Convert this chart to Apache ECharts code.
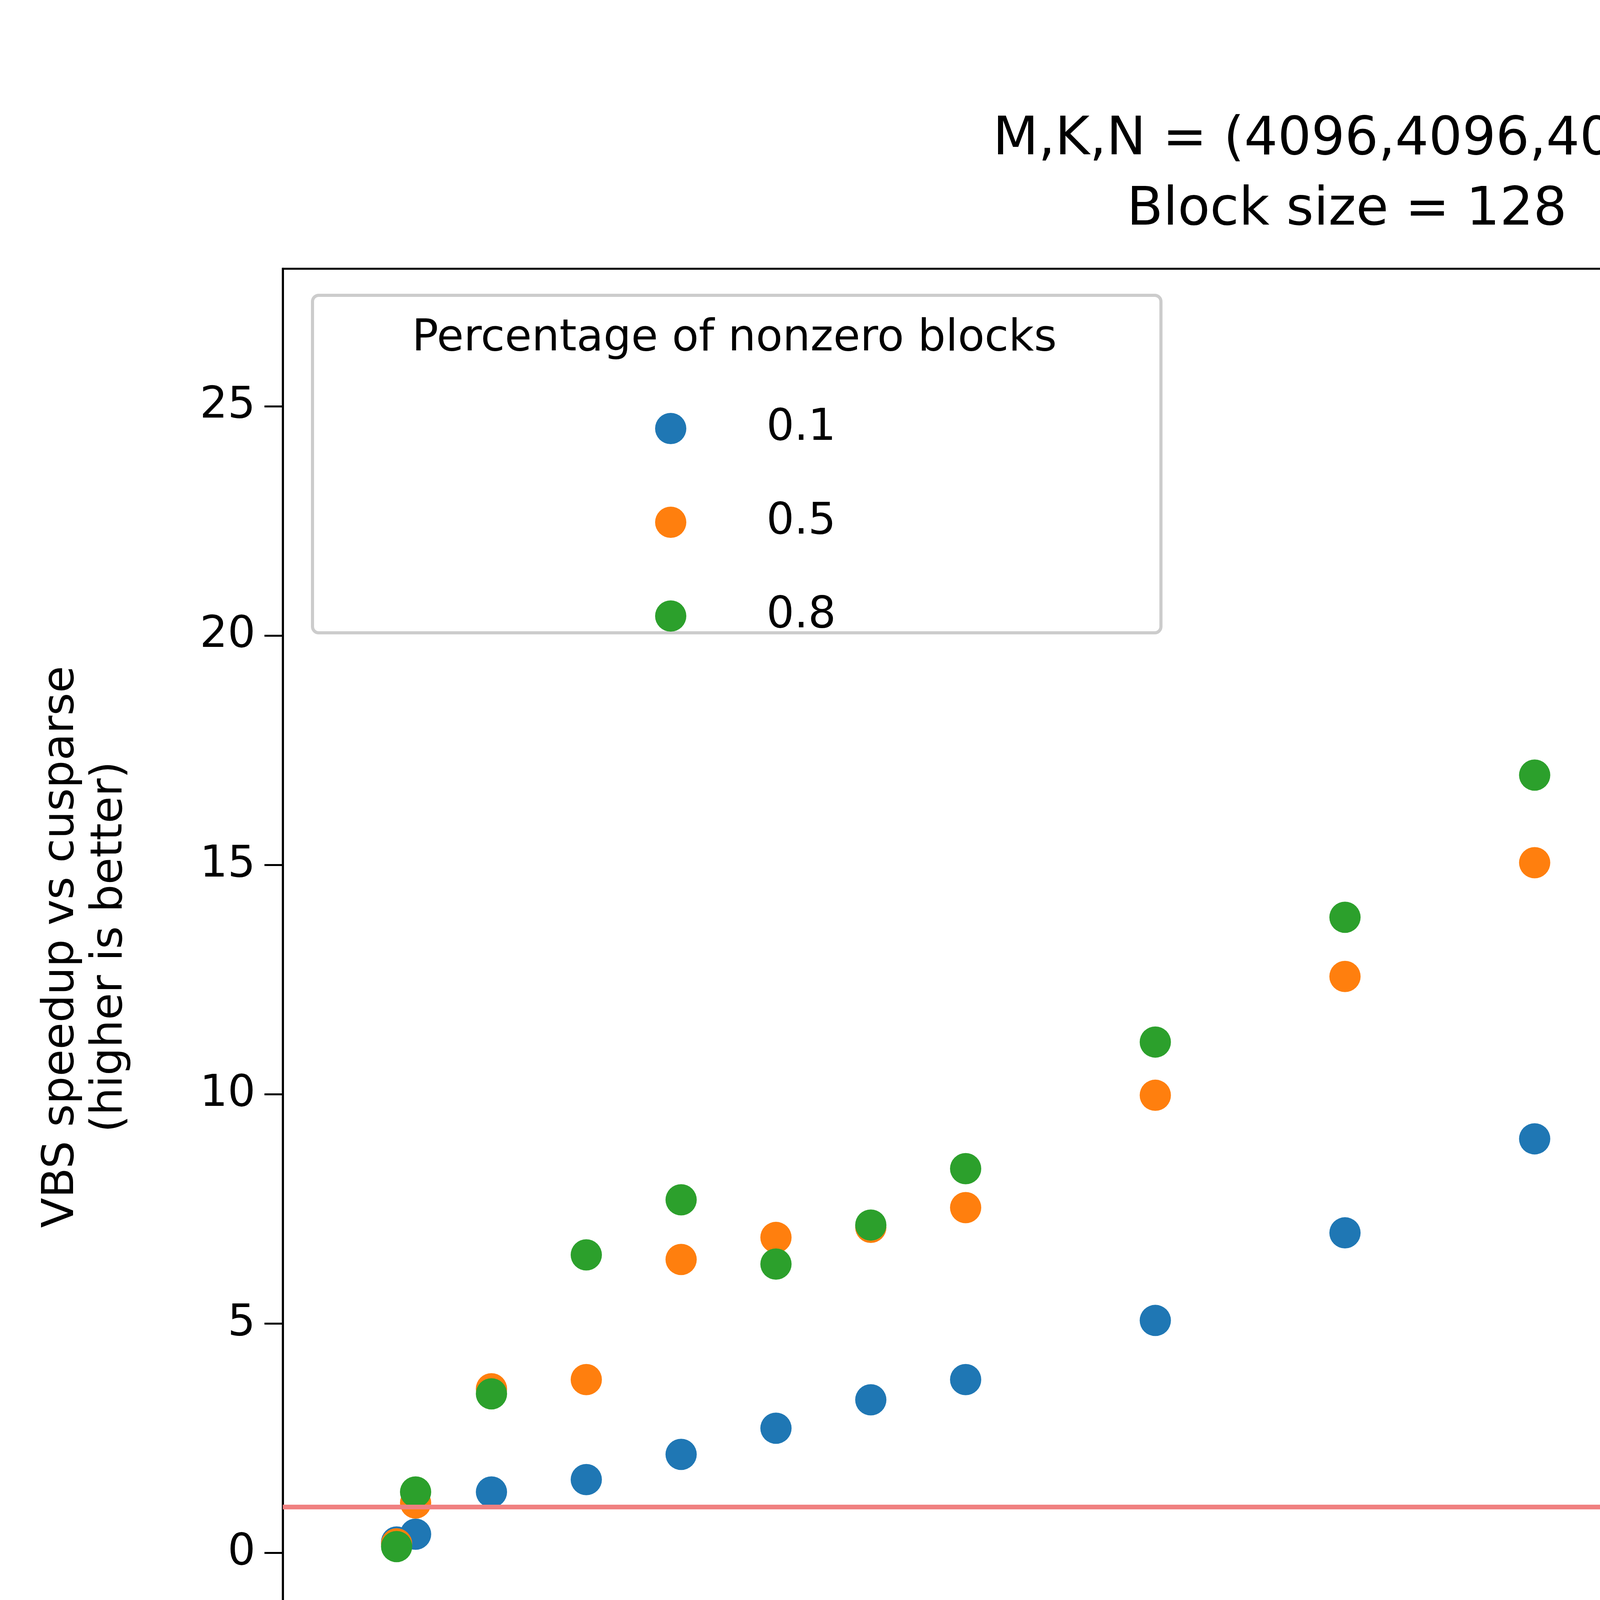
<!DOCTYPE html>
<html>
<head>
<meta charset="utf-8">
<script src="https://cdn.jsdelivr.net/npm/echarts@6/dist/echarts.min.js"></script>
<style>html,body{margin:0;padding:0;background:#fff}#main{width:6246px;height:4668px}</style>
</head>
<body>
<div id="main"></div>
<script>
var chart = echarts.init(document.getElementById('main'));

var density = [0, 0.01, 0.05, 0.1, 0.15, 0.2, 0.25, 0.3, 0.4, 0.5, 0.6, 0.7, 0.8, 0.9, 1.0];
var speed01 = [0.24, 0.41, 1.33, 1.6, 2.15, 2.72, 3.34, 3.78, 5.07, 6.98, 9.03, 9.78, 11.14, 13.04, 13.93];
var speed05 = [0.2, 1.09, 3.58, 3.78, 6.4, 6.88, 7.1, 7.53, 9.98, 12.57, 15.05, 17.6, 19.93, 22.3, 24.25];
var speed08 = [0.14, 1.33, 3.47, 6.5, 7.7, 6.3, 7.15, 8.38, 11.14, 13.86, 16.96, 19.38, 22.04, 24.66, 26.33];
var xTicks = [0, 0.2, 0.4, 0.6, 0.8, 1.0];
var yTicks = [0, 5, 10, 15, 20, 25];
var seriesNames = ['0.1', '0.5', '0.8'];
var colors = ['#1f77b4', '#ff7f0e', '#2ca02c'];

function pairs(ys) {
  return density.map(function (x, i) { return [x, ys[i]]; });
}

var font = 'DejaVu Sans';
var allSeries = [speed01, speed05, speed08].map(function (ys, i) {
  return {
    name: seriesNames[i],
    type: 'scatter',
    symbolSize: 80,
    itemStyle: {color: colors[i], opacity: 1},
    data: pairs(ys)
  };
});
allSeries[0].markLine = {
  silent: true,
  symbol: 'none',
  label: {show: false},
  lineStyle: {color: '#f08080', width: 12, type: 'solid'},
  data: [{yAxis: 1}]
};

var option = {
  backgroundColor: '#fff',
  animation: false,
  grid: {left: 724, right: 74, top: 688, bottom: 508, show: true, borderColor: '#000', borderWidth: 5, backgroundColor: 'transparent'},
  xAxis: {
    type: 'value', min: -0.06, max: 1.062,
    splitLine: {show: false},
    axisLine: {show: true, onZero: false, lineStyle: {color: '#000', width: 5}},
    axisTick: {show: true, customValues: xTicks, length: 47, lineStyle: {color: '#000', width: 5}},
    axisLabel: {customValues: xTicks, color: '#000', fontSize: 112, fontFamily: font, margin: 70,
      formatter: function (v) { return v.toFixed(1); }}
  },
  yAxis: {
    type: 'value', min: -1.57, max: 28.0,
    splitLine: {show: false},
    axisLine: {show: true, onZero: false, lineStyle: {color: '#000', width: 5}},
    axisTick: {show: true, customValues: yTicks, length: 47, lineStyle: {color: '#000', width: 5}},
    axisLabel: {customValues: yTicks, color: '#000', fontSize: 112, fontFamily: font, margin: 70}
  },
  legend: {
    orient: 'vertical', left: 1672, top: 1036, z: 10,
    itemWidth: 80, itemHeight: 80, itemGap: 128,
    icon: 'circle',
    data: seriesNames,
    textStyle: {fontSize: 112, fontFamily: font, color: '#000', padding: [0, 0, 0, 200]}
  },
  graphic: [
    {type: 'rect', left: 796, top: 752, z: 3, silent: true,
      shape: {width: 2172, height: 864, r: 16},
      style: {fill: 'rgba(255,255,255,0.8)', stroke: '#ccc', lineWidth: 8}},
    {type: 'text', z: 60, x: 1880, y: 868,
      style: {text: 'Percentage of nonzero blocks', font: '112px DejaVu Sans', fill: '#000', align: 'center', verticalAlign: 'middle'}},
    {type: 'text', z: 60, x: 3448, y: 450,
      style: {text: 'M,K,N = (4096,4096,4096)\nBlock size = 128', font: '135px DejaVu Sans', lineHeight: 180, fill: '#000', align: 'center', verticalAlign: 'middle'}},
    {type: 'text', z: 60, x: 3448, y: 4512,
      style: {text: 'in-block density', font: '112px DejaVu Sans', fill: '#000', align: 'center', verticalAlign: 'middle'}},
    {type: 'text', z: 60, x: 220, y: 2424, rotation: Math.PI / 2,
      style: {text: 'VBS speedup vs cusparse\n(higher is better)', font: '112px DejaVu Sans', lineHeight: 124, fill: '#000', align: 'center', verticalAlign: 'middle'}}
  ],
  series: allSeries
};

chart.setOption(option);
</script>
</body>
</html>
